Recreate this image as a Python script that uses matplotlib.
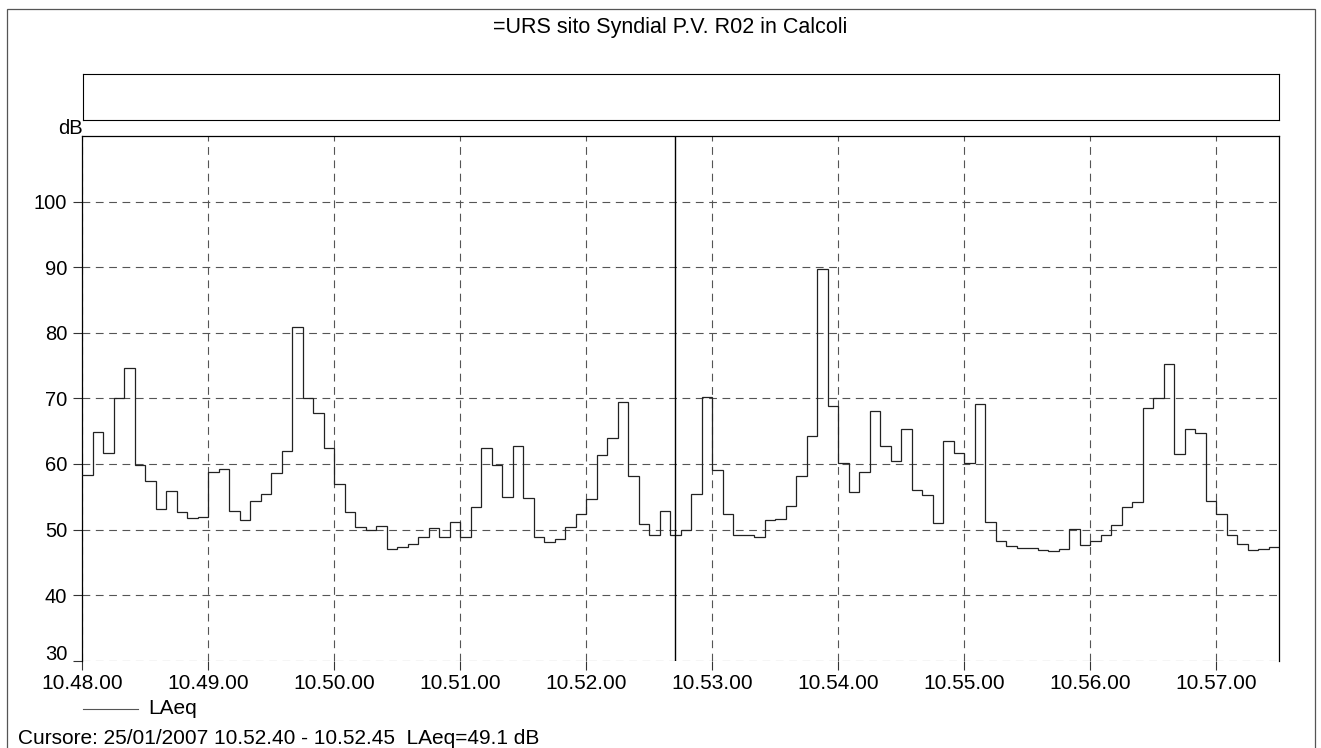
import numpy as np
import matplotlib
matplotlib.use("Agg")
import matplotlib.pyplot as plt
from matplotlib.patches import Rectangle
from matplotlib.transforms import ScaledTranslation

plt.rcParams["font.family"] = ["Liberation Sans", "DejaVu Sans"]

# LAeq every 5 s starting at 10.48.00 (dB)
LAEQ = [
    58.3, 64.8, 61.6, 70.1, 74.6, 59.9, 57.4, 53.1, 55.8, 52.7,
    51.7, 51.9, 58.8, 59.3, 52.8, 51.5, 54.3, 55.4, 58.6, 61.9,
    80.9, 70.0, 67.8, 62.4, 56.9, 52.6, 50.4, 49.9, 50.6, 47.0,
    47.3, 47.8, 48.9, 50.3, 48.9, 51.1, 48.8, 53.5, 62.5, 59.9,
    55.0, 62.8, 54.8, 48.8, 48.1, 48.6, 50.4, 52.3, 54.6, 61.4,
    63.9, 69.4, 58.2, 50.9, 49.2, 52.8, 49.1, 49.9, 55.4, 70.2,
    59.1, 52.3, 49.2, 49.2, 48.8, 51.4, 51.6, 53.6, 58.2, 64.3,
    89.7, 68.9, 60.1, 55.7, 58.8, 68.0, 62.7, 60.4, 65.3, 56.1,
    55.3, 51.0, 63.5, 61.7, 60.2, 69.2, 51.1, 48.3, 47.5, 47.2,
    47.2, 46.9, 46.7, 47.1, 50.1, 47.7, 48.3, 49.2, 50.7, 53.5,
    54.2, 68.6, 70.0, 75.3, 61.5, 65.3, 64.7, 54.4, 52.4, 49.2,
    47.8, 46.9, 47.0, 47.4,
]
STEP_S = 5
X_TICKS = ["10.48.00", "10.49.00", "10.50.00", "10.51.00", "10.52.00",
           "10.53.00", "10.54.00", "10.55.00", "10.56.00", "10.57.00"]
Y_TICKS = [30, 40, 50, 60, 70, 80, 90, 100]
CURSOR_STEP = 56  # 10.52.40 - 10.52.45
TITLE = "=URS sito Syndial P.V. R02 in Calcoli"

W, H = 1321, 748
fig = plt.figure(figsize=(W / 100, H / 100), dpi=100)

# page frame
fig.patches.append(Rectangle((7 / W, -0.05), 1308 / W, 1.05 - 9 / H, transform=fig.transFigure,
                             fill=False, edgecolor="#555555", linewidth=0.9))

fig.text(670 / W, 1 - 28 / H, TITLE, ha="center", va="center", fontsize=15.5)

# empty header box
box = fig.add_axes([83 / W, 1 - 120 / H, 1196 / W, 46 / H])
box.set_xticks([])
box.set_yticks([])
for s in box.spines.values():
    s.set_linewidth(0.8)

ax = fig.add_axes([82.3 / W, 1 - 660.7 / H, (1279 - 82.3) / W, (660.7 - 136) / H])
vals = np.array(LAEQ)
edges = np.arange(len(vals) + 1) * STEP_S
ax.stairs(vals, edges, color="#222222", linewidth=0.9, baseline=None, zorder=3)

ax.set_xlim(0, edges[-1])
ax.set_ylim(30, 110)
ax.set_xticks(np.arange(len(X_TICKS)) * 60)
ax.set_xticklabels(X_TICKS, fontsize=15)
ax.set_yticks(Y_TICKS)
ax.set_yticklabels([str(v) for v in Y_TICKS], fontsize=14.5)
ax.tick_params(axis="both", direction="out", length=6.5, width=0.8, colors="#333333",
               labelcolor="black")
ax.tick_params(axis="x", pad=3.2)
ax.tick_params(axis="y", pad=4.3)
ax.grid(True, color="#555555", linestyle=(0, (7, 5)), linewidth=0.8)
for s in ["left", "right", "top"]:
    ax.spines[s].set_linewidth(0.9)
ax.spines["bottom"].set_visible(False)

# lowest y label sits a little above its line
lab30 = ax.get_yticklabels()[0]
lab30.set_transform(lab30.get_transform() + ScaledTranslation(0, 8 / 100, fig.dpi_scale_trans))

# cursor
ax.axvline((CURSOR_STEP + 0.45) * STEP_S, color="black", linewidth=1.0, zorder=4)

fig.text(58 / W, 1 - 128 / H, "dB", ha="left", va="center", fontsize=14.5)

# legend
fig.add_artist(plt.Line2D([83 / W, 138 / W], [1 - 709 / H, 1 - 709 / H], color="#555555",
                          linewidth=0.8, transform=fig.transFigure))
fig.text(148 / W, 1 - 709 / H, "LAeq", ha="left", va="center", fontsize=15)

fig.text(18 / W, 1 - 738 / H,
         "Cursore: 25/01/2007 10.52.40 - 10.52.45  LAeq=%.1f dB" % LAEQ[CURSOR_STEP],
         ha="left", va="center", fontsize=15)

fig.savefig("out.png", dpi=100)
